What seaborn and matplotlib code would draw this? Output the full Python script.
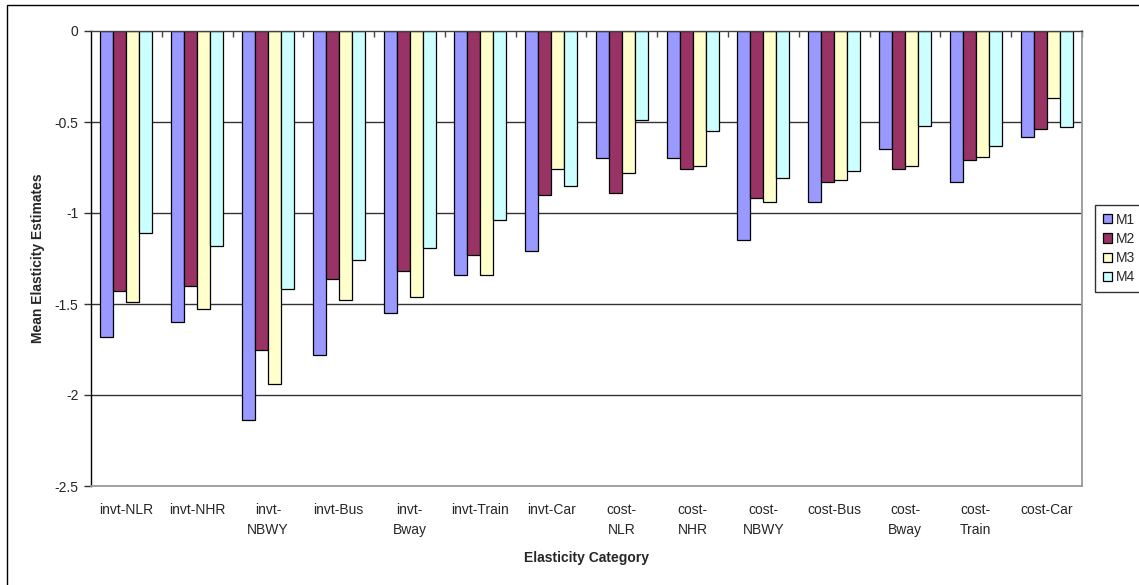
import pandas as pd
import matplotlib.pyplot as plt
import numpy as np
import seaborn as sns
from matplotlib.patches import Rectangle

# elasticity estimates
categories = ["invt-NLR", "invt-NHR", "invt-\nNBWY", "invt-Bus", "invt-\nBway",
              "invt-Train", "invt-Car", "cost-\nNLR", "cost-\nNHR", "cost-\nNBWY",
              "cost-Bus", "cost-\nBway", "cost-\nTrain", "cost-Car"]
m1 = [-1.68, -1.60, -2.14, -1.78, -1.55, -1.34, -1.21, -0.70, -0.70, -1.15, -0.94, -0.65, -0.83, -0.58]
m2 = [-1.43, -1.40, -1.75, -1.36, -1.32, -1.23, -0.90, -0.89, -0.76, -0.92, -0.83, -0.76, -0.71, -0.54]
m3 = [-1.49, -1.53, -1.94, -1.48, -1.46, -1.34, -0.76, -0.78, -0.74, -0.94, -0.82, -0.74, -0.69, -0.37]
m4 = [-1.11, -1.18, -1.42, -1.26, -1.19, -1.04, -0.85, -0.49, -0.55, -0.81, -0.77, -0.52, -0.63, -0.53]
models = ["M1", "M2", "M3", "M4"]
colors = ["#9999FF", "#993366", "#FFFFCC", "#CCFFFF"]

rows = []
for name, vals in zip(models, [m1, m2, m3, m4]):
    for cat, v in zip(categories, vals):
        rows.append({"Category": cat, "Model": name, "Value": v})
df = pd.DataFrame(rows)

sns.set_style("white")
plt.rcParams['font.family'] = ['Liberation Sans', 'DejaVu Sans']

fig = plt.figure(figsize=(11.39, 5.85), dpi=100)
ax = fig.add_axes([91/1139, 1-486/585, (1082-91)/1139, (486-31)/585])

sns.barplot(data=df, x="Category", y="Value", hue="Model", order=categories,
            hue_order=models, palette=colors, width=0.735, edgecolor="black",
            linewidth=0.9, saturation=1, ax=ax, legend=True)

ax.set_ylim(-2.5, 0)
ax.set_xlim(-0.5, len(categories)-0.5)
ax.set_yticks([0, -0.5, -1, -1.5, -2, -2.5])
ax.set_yticklabels(["0", "-0.5", "-1", "-1.5", "-2", "-2.5"])
for y in [-0.5, -1, -1.5, -2]:
    ax.axhline(y, color="#333333", lw=1, zorder=0)

# category axis sits at zero (top), tick marks between groups
ax.set_xticks(np.arange(len(categories)))
ax.set_xticklabels(categories, fontsize=10, linespacing=1.6)
ax.tick_params(axis="x", which="major", length=0, pad=12)
ax.set_xticks(np.arange(len(categories)) + 0.5, minor=True)
ax.tick_params(axis="x", which="minor", top=True, bottom=False, direction="in",
               length=4, width=1, color="#444444")
ax.tick_params(axis="y", left=True, length=5, width=1, pad=4, labelsize=10, color="#333333")

ax.spines["left"].set_color("black")
ax.spines["left"].set_linewidth(1)
ax.spines["top"].set_color("#444444")
ax.spines["top"].set_linewidth(1)
for s in ["right", "bottom"]:
    ax.spines[s].set_color("#999999")
    ax.spines[s].set_linewidth(1.3)

ax.set_xlabel("Elasticity Category", fontsize=10, fontweight="bold", labelpad=10)
ax.set_ylabel("Mean Elasticity Estimates", fontsize=10, fontweight="bold", labelpad=7)

leg = ax.legend(loc="upper left", bbox_to_anchor=(1095/1139, 1-205/585),
                bbox_transform=fig.transFigure, fontsize=10, frameon=True,
                fancybox=False, handlelength=0.65, handleheight=0.65,
                handletextpad=0.3, borderpad=0.55, labelspacing=0.38,
                borderaxespad=0)
leg.get_frame().set_edgecolor("black")
leg.get_frame().set_linewidth(1)

fig.add_artist(Rectangle((7/1139, -0.1), 1.2, 1-5/585+0.1, fill=False,
                         ec="black", lw=1, transform=fig.transFigure))

plt.savefig("out.png", dpi=100)
